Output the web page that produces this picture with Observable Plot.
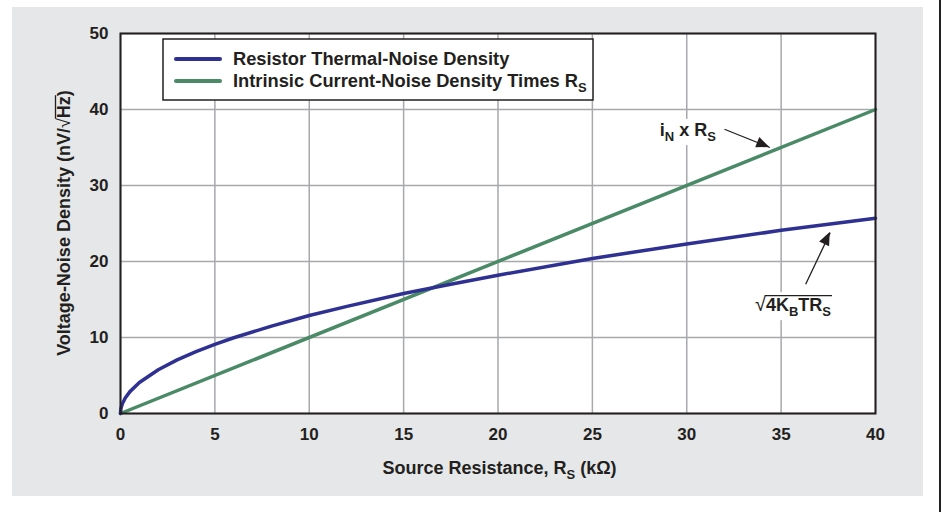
<!DOCTYPE html>
<html><head><meta charset="utf-8">
<script src="https://cdn.jsdelivr.net/npm/d3@7"></script>
<script src="https://cdn.jsdelivr.net/npm/@observablehq/plot@0.6"></script>
<style>
body{margin:0;background:#fff;width:946px;height:512px;position:relative;overflow:hidden;font-family:"Liberation Sans",Arial,sans-serif}
#panel{position:absolute;left:12px;top:7px;width:911px;height:489px;background:#e6e7e8}
#edge{position:absolute;left:939px;top:0;width:2px;height:512px;background:#231f20}
#chart{position:absolute;left:0;top:0}
</style></head><body>
<div id="panel"></div><div id="edge"></div><div id="chart"></div>
<script>
// Source resistance (kΩ) and resistor thermal-noise density (nV/√Hz)
const rs      = [0, 0.02, 0.05, 0.1, 0.25, 0.5, 1, 2, 3, 4, 5, 6, 8, 10, 12, 15, 17.5, 20, 25, 30, 35, 40];
const thermal = [0, 0.58, 0.91, 1.29, 2.03, 2.88, 4.07, 5.76, 7.05, 8.14, 9.1, 9.97, 11.5, 12.9, 14.1, 15.8, 17.0, 18.2, 20.4, 22.3, 24.1, 25.7];
// Intrinsic current-noise density times Rs
const rsCurrent = [0, 40];
const currentNoise = [0, 40];
// ticks
const xTicks = [0, 5, 10, 15, 20, 25, 30, 35, 40];
const yTicks = [0, 10, 20, 30, 40, 50];
// annotation arrows (data coordinates)
const arrowX1 = [32.0, 36.3], arrowY1 = [37.4, 17.0];
const arrowX2 = [34.4, 37.6], arrowY2 = [35.0, 23.8];
// annotation label anchors (left, baseline)
const labelX = [28.6, 33.64], labelY = [36.45, 13.4];

const blue = "#2e3192", green = "#4a8a66", ink = "#231f20", gridC = "#a7a9ac";
const FS = 18, SUB = 13, DY = 5;
const thermalData = rs.map((x, i) => ({x, y: thermal[i]}));
const currentData = rsCurrent.map((x, i) => ({x, y: currentNoise[i]}));
const arrows = arrowX1.map((x1, i) => ({x1, y1: arrowY1[i], x2: arrowX2[i], y2: arrowY2[i]}));

function arrowHeads(index, scales) {
  const g = d3.create("svg:g");
  for (const a of arrows) {
    const x1 = scales.x(a.x1), y1 = scales.y(a.y1), x2 = scales.x(a.x2), y2 = scales.y(a.y2);
    const dx = x2 - x1, dy = y2 - y1, L = Math.hypot(dx, dy), ux = dx / L, uy = dy / L;
    const len = 13, w = 5.5;
    const bx = x2 - ux * len, by = y2 - uy * len;
    g.append("polygon").attr("fill", ink)
      .attr("points", `${x2},${y2} ${bx - uy * w},${by + ux * w} ${bx + uy * w},${by - ux * w}`);
  }
  return g.node();
}
function labels(index, scales) {
  const g = d3.create("svg:g").attr("class", "annot").attr("font-weight", "bold").attr("fill", ink)
    .attr("font-size", FS).attr("text-anchor", "start");
  // label 1: iN x RS
  const t1 = g.append("text").attr("x", scales.x(labelX[0])).attr("y", scales.y(labelY[0]));
  t1.append("tspan").text("i");
  t1.append("tspan").attr("font-size", SUB).attr("dy", DY).text("N");
  t1.append("tspan").attr("dy", -DY).text(" x R");
  t1.append("tspan").attr("font-size", SUB).attr("dy", DY).text("S");
  // label 2: sqrt(4 KB T RS)
  const t2 = g.append("text").attr("x", scales.x(labelX[1])).attr("y", scales.y(labelY[1]));
  t2.append("tspan").attr("font-weight", "normal").attr("font-size", 20).text("√");
  t2.append("tspan").text("4K");
  t2.append("tspan").attr("font-size", SUB).attr("dy", DY).text("B");
  t2.append("tspan").attr("dy", -DY).text("TR");
  t2.append("tspan").attr("font-size", SUB).attr("dy", DY).text("S");
  return g.node();
}

const plot = Plot.plot({
  width: 946, height: 512,
  marginLeft: 120, marginRight: 71, marginTop: 33, marginBottom: 99,
  style: {background: "transparent", fontFamily: "'Liberation Sans', Arial, sans-serif", fontSize: "17px", fontWeight: "bold", color: ink},
  x: {domain: [0, 40]},
  y: {domain: [0, 50]},
  marks: [
    Plot.frame({fill: "white", stroke: null}),
    Plot.gridX(xTicks, {stroke: gridC, strokeOpacity: 1, strokeWidth: 1.5}),
    Plot.gridY(yTicks, {stroke: gridC, strokeOpacity: 1, strokeWidth: 1.5}),
    Plot.axisX(xTicks, {tickSize: 0, tickPadding: 14, label: null, fill: ink}),
    Plot.axisY(yTicks, {tickSize: 0, tickPadding: 12, label: null, fill: ink}),
    labels,
    Plot.line(currentData, {x: "x", y: "y", stroke: green, strokeWidth: 3.5}),
    Plot.line(thermalData, {x: "x", y: "y", stroke: blue, strokeWidth: 3.5}),
    Plot.link(arrows, {x1: "x1", y1: "y1", x2: "x2", y2: "y2", stroke: ink, strokeWidth: 1.3}),
    arrowHeads,
    Plot.frame({stroke: ink, strokeWidth: 2})
  ]
});
document.getElementById("chart").appendChild(plot);

const svg = d3.select(plot);
const xs = plot.scale("x"), ys = plot.scale("y");
// white backgrounds behind annotation labels
svg.selectAll("g.annot text").each(function () {
  const b = this.getBBox();
  d3.select(this.parentNode).insert("rect", () => this).attr("x", b.x - 2).attr("y", b.y - 1)
    .attr("width", b.width + 4).attr("height", b.height + 2).attr("fill", "white");
});
// overline for the sqrt label
const sq = svg.selectAll("g.annot text").nodes()[1];
const sqStart = sq.getStartPositionOfChar(1), sqEnd = sq.getEndPositionOfChar(sq.getNumberOfChars() - 1);
const sb = sq.getBBox();
d3.select(sq.parentNode).append("line").attr("x1", sqStart.x - 1).attr("x2", sqEnd.x + 1)
  .attr("y1", sb.y + 2.5).attr("y2", sb.y + 2.5).attr("stroke", ink).attr("stroke-width", 1.3);

// legend
const L = xs.apply(0) + 43, T = ys.apply(50) + 6;
const lg = svg.append("g").attr("font-weight", "bold").attr("font-size", 18.3).attr("fill", ink).attr("text-anchor", "start");
lg.append("rect").attr("x", L).attr("y", T).attr("width", 430).attr("height", 61)
  .attr("fill", "white").attr("stroke", ink).attr("stroke-width", 1.5);
[[blue, ["Resistor Thermal-Noise Density"]], [green, ["Intrinsic Current-Noise Density Times R", "S"]]].forEach(([c, t], i) => {
  const y = T + 20 + i * 22;
  lg.append("line").attr("x1", L + 13).attr("x2", L + 57).attr("y1", y).attr("y2", y)
    .attr("stroke", c).attr("stroke-width", 4).attr("stroke-linecap", "round");
  const tx = lg.append("text").attr("x", L + 70).attr("y", y + 6);
  tx.append("tspan").text(t[0]);
  if (t[1]) tx.append("tspan").attr("font-size", SUB).attr("dy", DY).text(t[1]);
});

// axis titles
const xt = svg.append("text").attr("x", (xs.apply(0) + xs.apply(40)) / 2 + 2).attr("y", 474)
  .attr("text-anchor", "middle").attr("font-weight", "bold").attr("font-size", FS).attr("fill", ink);
xt.append("tspan").text("Source Resistance, R");
xt.append("tspan").attr("font-size", SUB).attr("dy", DY).text("S");
xt.append("tspan").attr("dy", -DY).text(" (kΩ)");

const ytr = `translate(70,${(ys.apply(0) + ys.apply(50)) / 2}) rotate(-90)`;
const yt = svg.append("text").attr("transform", ytr)
  .attr("text-anchor", "middle").attr("font-weight", "bold").attr("font-size", FS).attr("fill", ink);
yt.append("tspan").text("Voltage-Noise Density (nV/");
yt.append("tspan").attr("font-weight", "normal").text("√");
const hz = yt.append("tspan").text("Hz");
yt.append("tspan").text(")");
// overline over Hz
const nBefore = "Voltage-Noise Density (nV/√".length;
const start = yt.node().getStartPositionOfChar(nBefore), end = yt.node().getEndPositionOfChar(nBefore + 1);
const tb = yt.node().getBBox();
svg.append("line").attr("transform", ytr)
  .attr("x1", start.x - 0.5).attr("x2", end.x + 1).attr("y1", tb.y + 1.5).attr("y2", tb.y + 1.5)
  .attr("stroke", ink).attr("stroke-width", 1.3);
</script></body></html>
